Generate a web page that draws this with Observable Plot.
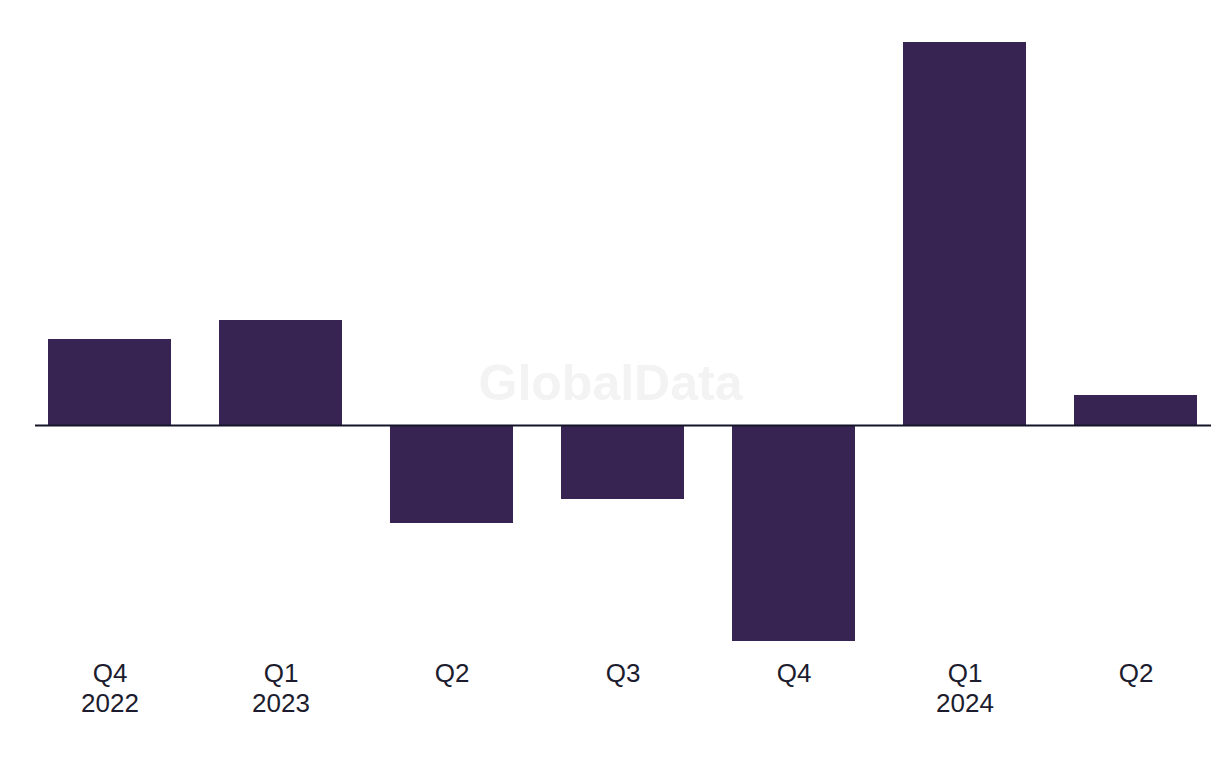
<!DOCTYPE html>
<html>
<head>
<meta charset="utf-8">
<script src="https://cdn.jsdelivr.net/npm/d3@7"></script>
<script src="https://cdn.jsdelivr.net/npm/@observablehq/plot@0.6"></script>
<style>
  html, body { margin: 0; padding: 0; background: #ffffff; }
  #chart { width: 1220px; height: 768px; }
</style>
</head>
<body>
<div id="chart"></div>
<script>
const quarters = ["Q4\n2022", "Q1\n2023", "Q2", "Q3", "Q4", "Q1\n2024", "Q2 "];
const values = [86, 105, -98, -74, -216, 383, 30];
const watermark = ["GlobalData"];

const data = quarters.map((q, i) => ({ q, v: values[i] }));

const chart = Plot.plot({
  width: 1220,
  height: 768,
  marginTop: 42,
  marginBottom: 127,
  marginLeft: 35,
  marginRight: 9,
  style: { fontFamily: "Liberation Sans, Arial, sans-serif", background: "#ffffff", color: "#1c1c2e" },
  x: { domain: quarters, paddingInner: 0.28, paddingOuter: 0.076, label: null },
  y: { domain: [d3.min(values), d3.max(values)], axis: null },
  marks: [
    Plot.text(watermark, {
      text: d => d, frameAnchor: "middle", dx: -13, dy: 42,
      fontSize: 50, fontWeight: "bold", fill: "#f3f3f4"
    }),
    Plot.barY(data, { x: "q", y: "v", fill: "#372453" }),
    Plot.ruleY([0], { stroke: "#14142a", strokeWidth: 2 }),
    Plot.axisX({
      tickSize: 0, tickPadding: 19, fontSize: 26, lineHeight: 1.15,
      fill: "#1c1c2e", label: null, tickFormat: d => d.trim()
    })
  ]
});
document.getElementById("chart").appendChild(chart);
</script>
</body>
</html>
